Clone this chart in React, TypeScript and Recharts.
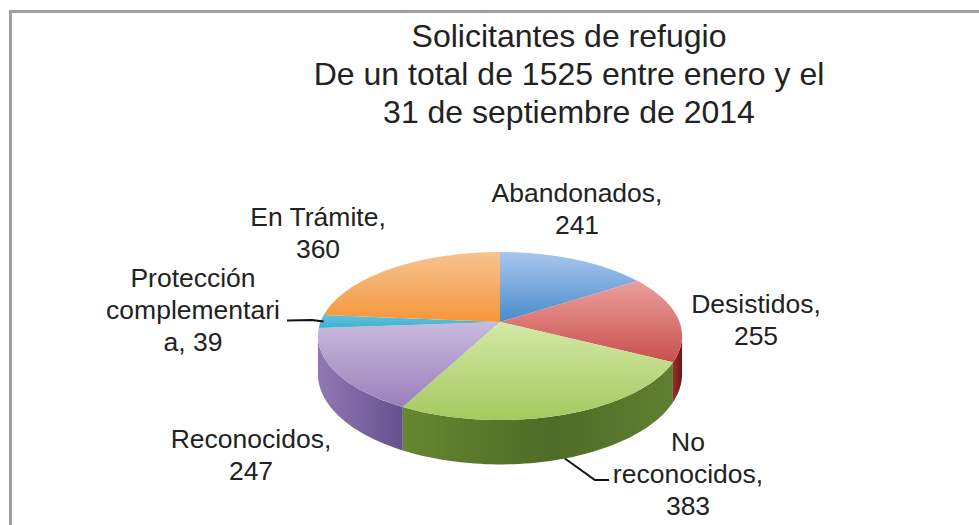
import { Pie, PieChart } from 'recharts';

const categories = ['Abandonados', 'Desistidos', 'No reconocidos', 'Reconocidos', 'Protección complementaria', 'En Trámite'];
const values = [241, 255, 383, 247, 39, 360];

const titleLines = ['Solicitantes de refugio', 'De un total de 1525 entre enero y el', '31 de septiembre de 2014'];

// label text, wrapped the way it is drawn; the value follows the last line
const labelLines = [
    ['Abandonados,'],
    ['Desistidos,'],
    ['No', 'reconocidos,'],
    ['Reconocidos,'],
    ['Protección', 'complementari', 'a,'],
    ['En Trámite,'],
];
const labelAnchors = [
    [577, 202],
    [756, 313],
    [688, 451],
    [251, 448],
    [193, 287],
    [318, 226],
];

// face gradient (top, bottom), wall gradient (left, middle, right)
const faceColors = [
    ['#a9c6ee', '#4a8ccb'],
    ['#eb9f9b', '#c9504c'],
    ['#d3eaa6', '#a5c95f'],
    ['#c9b9dd', '#9a80bb'],
    ['#62c3dd', '#3fb0d0'],
    ['#f6c391', '#f5973a'],
];
const wallColors = [
    ['#35608f', '#2c5480', '#264a72'],
    ['#9c2f2b', '#80211f', '#6b1a18'],
    ['#66872f', '#4f6b28', '#5f8030'],
    ['#8f78b2', '#7a62a0', '#64508c'],
    ['#2b8aa5', '#2b8aa5', '#2b8aa5'],
    ['#b06a20', '#a06018', '#905510'],
];

const chartData = categories.map((name, i) => ({ name, value: values[i] }));

// flattening and perspective of the tilted disc
const SQUASH = 0.455;
const NEAR = 1 / 6;
const DEPTH = 37;
const WALL_FROM = 99.6;
const WALL_TO = 260.4;

function rimPoint(cx: number, cy: number, r: number, deg: number, drop = 0) {
    const t = (deg * Math.PI) / 180;
    const u = Math.sin(t);
    const v = -Math.cos(t);
    const w = 1 - v * NEAR;
    return [cx + (r * u) / w, cy + (r * SQUASH * v) / w + (drop * DEPTH) / w];
}

function arcPoints(cx: number, cy: number, r: number, from: number, to: number, drop = 0) {
    const pts: number[][] = [];
    const steps = Math.max(2, Math.ceil((to - from) / 1.5));
    for (let i = 0; i <= steps; i++) {
        pts.push(rimPoint(cx, cy, r, from + ((to - from) * i) / steps, drop));
    }
    return pts;
}

const toPath = (pts: number[][]) => pts.map((p, i) => `${i ? 'L' : 'M'}${p[0].toFixed(2)} ${p[1].toFixed(2)}`).join(' ') + ' Z';

function DiscSlice(props: any) {
    const { cx, cy, outerRadius, startAngle, endAngle, name } = props;
    const i = categories.indexOf(name);
    const from = 90 - startAngle;
    const to = 90 - endAngle;
    const wallFrom = Math.max(from, WALL_FROM);
    const wallTo = Math.min(to, WALL_TO);
    const top = [[cx, cy], ...arcPoints(cx, cy, outerRadius, from, to)];
    const wall = wallFrom < wallTo
        ? [...arcPoints(cx, cy, outerRadius, wallFrom, wallTo), ...arcPoints(cx, cy, outerRadius, wallFrom, wallTo, 1).reverse()]
        : null;
    return (
        <g>
            <defs>
                <linearGradient id={`face-${i}`} x1="0" y1="0" x2="0" y2="1">
                    <stop offset="0%" stopColor={faceColors[i][0]} />
                    <stop offset="100%" stopColor={faceColors[i][1]} />
                </linearGradient>
                <linearGradient id={`wall-${i}`} x1="0" y1="0" x2="1" y2="0">
                    <stop offset="0%" stopColor={wallColors[i][0]} />
                    <stop offset="55%" stopColor={wallColors[i][1]} />
                    <stop offset="100%" stopColor={wallColors[i][2]} />
                </linearGradient>
            </defs>
            {wall && <path d={toPath(wall)} fill={`url(#wall-${i})`} />}
            <path d={toPath(top)} fill={`url(#face-${i})`} />
        </g>
    );
}

function SliceLabel(props: any) {
    const { cx, cy, outerRadius, midAngle, index, value } = props;
    const lines = [...labelLines[index]];
    if (lines[lines.length - 1] === 'a,') lines[lines.length - 1] = `a, ${value}`;
    else lines.push(String(value));
    const [x, y] = labelAnchors[index];
    const deg = 90 - midAngle;
    let leader = null;
    if (index === 2) {
        const [ax, ay] = rimPoint(cx, cy, outerRadius, deg, 1);
        leader = `M${ax} ${ay} L${ax + 30} 480 L609 480`;
    }
    if (index === 4) {
        const [ax, ay] = rimPoint(cx, cy, outerRadius, deg);
        leader = `M${ax + 3} ${ay} L312 320 L287 320.5`;
    }
    return (
        <g>
            {leader && <path d={leader} fill="none" stroke="#111" strokeWidth={2} />}
            <text x={x} y={y} textAnchor="middle" fontFamily="'Liberation Sans', Arial, sans-serif" fontSize={26.5} fill="#222">
                {lines.map((line, n) => (
                    <tspan key={n} x={x} dy={n ? 32 : 0}>{line}</tspan>
                ))}
            </text>
        </g>
    );
}

export default function App() {
    return (
        <div style={{ position: 'absolute', left: 0, top: 0, width: 979, height: 525, background: '#fff', overflow: 'hidden' }}>
            {/* only the top and left edges of the chart frame are in view */}
            <div style={{ position: 'absolute', left: 9, top: 10, width: 970, height: 515, borderTop: '3px solid #a0a0a0', borderLeft: '3px solid #a0a0a0' }} />
            <PieChart width={979} height={525} margin={{ top: 0, right: 0, bottom: 0, left: 0 }} style={{ position: 'absolute', left: 0, top: 0 }}>
                <Pie
                    data={chartData}
                    dataKey="value"
                    nameKey="name"
                    cx={500}
                    cy={322}
                    innerRadius={0}
                    outerRadius={179.5}
                    startAngle={90}
                    endAngle={-270}
                    stroke="none"
                    shape={DiscSlice}
                    inactiveShape={DiscSlice}
                    label={SliceLabel}
                    labelLine={false}
                    isAnimationActive={false}
                />
            </PieChart>
            <div
                style={{
                    position: 'absolute',
                    left: 269,
                    top: 17,
                    width: 600,
                    textAlign: 'center',
                    fontFamily: "'Liberation Sans', Arial, sans-serif",
                    fontSize: 32,
                    lineHeight: '38px',
                    color: '#222',
                }}
            >
                {titleLines.map((line) => (
                    <div key={line}>{line}</div>
                ))}
            </div>
        </div>
    );
}
